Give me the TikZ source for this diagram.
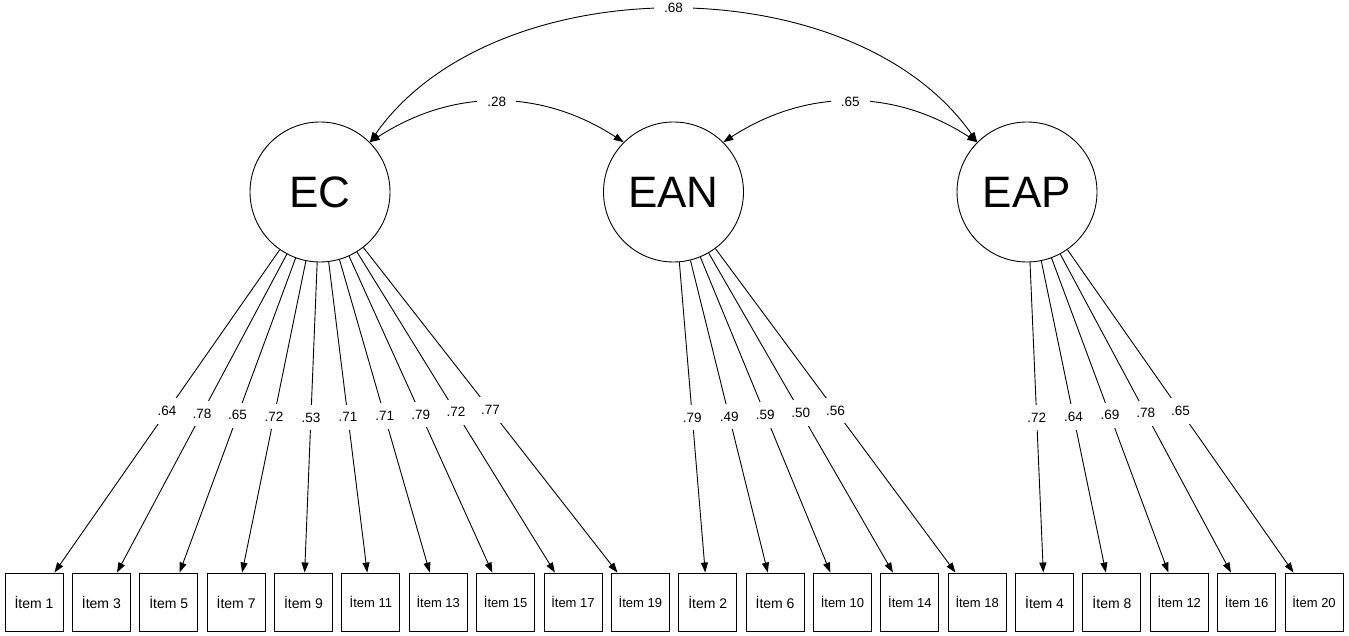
\documentclass[tikz,border=0pt]{standalone}
\usepackage{fontspec}
\setmainfont{Liberation Sans}
\usetikzlibrary{arrows.meta}
\begin{document}
\begin{tikzpicture}[x=1pt,y=1pt,line width=0.9pt,
  latent/.style={circle,draw,minimum size=140pt,inner sep=0pt,font=\fontsize{44}{44}\selectfont},
  item/.style={draw,minimum width=58pt,minimum height=58pt,inner sep=0pt,font=\fontsize{14}{14}\selectfont},
  load/.style={-{Triangle[length=10pt,width=7pt]}},
  cov/.style={{Triangle[length=10pt,width=7pt]}-{Triangle[length=10pt,width=7pt]}},
  coef/.style={fill=white,inner xsep=7pt,inner ysep=8pt,font=\fontsize{13.5}{14}\selectfont}]
\fill[white] (0,0) rectangle (1349,-636);
\useasboundingbox (0,0) rectangle (1349,-636);
\node[latent] (EC) at (320,-192) {EC};
\node[latent] (EAN) at (673.5,-192) {EAN};
\node[latent] (EAP) at (1027,-192) {EAP};
\foreach \n [count=\k from 0] in {1,3,5,7,9,11,13,15,17,19,2,6,10,14,18,4,8,12,16,20}
  \node[item] (i\n) at ({34+67.37*\k},-602) {\ifnum\n>9 \fontsize{13}{13}\selectfont\fi İtem \n};
\foreach \n/\v in {1/.64,3/.78,5/.65,7/.72,9/.53,11/.71,13/.71,15/.79,17/.72,19/.77}
  \draw[load] (EC) -- node[coef]{\v} (i\n);
\foreach \n/\v in {2/.79,6/.49,10/.59,14/.50,18/.56}
  \draw[load] (EAN) -- node[coef]{\v} (i\n);
\foreach \n/\v in {4/.72,8/.64,12/.69,16/.78,20/.65}
  \draw[load] (EAP) -- node[coef]{\v} (i\n);
\draw[cov] (EC.45) to[out=33,in=147] node[coef,inner xsep=10pt]{.28} (EAN.135);
\draw[cov] (EAN.45) to[out=33,in=147] node[coef,inner xsep=10pt]{.65} (EAP.135);
\draw[cov] (EC.45) to[out=55,in=125,looseness=0.91] node[coef,inner xsep=10pt,yshift=2pt]{.68} (EAP.135);
\end{tikzpicture}
\end{document}
